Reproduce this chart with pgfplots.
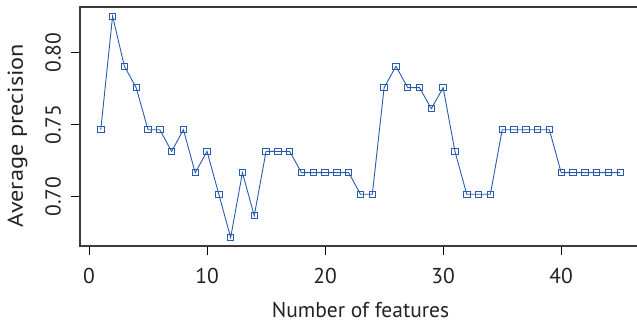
\documentclass[border=0pt]{standalone}
\usepackage{pgfplots}
\pgfplotsset{compat=1.18}
\usepackage{graphicx}
\usepackage{fontspec}
\setmainfont{PT Sans}
\definecolor{lineblue}{RGB}{42,92,172}
\definecolor{boxgray}{RGB}{60,60,60}
\definecolor{txt}{RGB}{35,35,35}
\begin{document}
\begin{tikzpicture}
\begin{axis}[
  at={(0pt,0pt)}, anchor=south west,
  scale only axis, width=561pt, height=239pt,
  xmin=-0.76, xmax=46.76, ymin=0.6658, ymax=0.8317,
  axis line style={boxgray, line width=1.1pt},
  tick align=outside, major tick length=9pt,
  tick style={black, line width=0.9pt},
  xtick={0,10,20,30,40}, xticklabels={0,10,20,30,40},
  ytick={0.70,0.75,0.80}, yticklabels={0.70,0.75,0.80},
  xtick pos=bottom, ytick pos=left,
  font=\fontsize{21.5}{25}\selectfont\color{txt},
  xticklabel style={anchor=north, inner sep=0pt, yshift=-13pt, text=txt, font=\fontsize{21.5}{25}\selectfont},
  yticklabel style={xshift=-10pt, rotate=90, anchor=south, inner sep=0pt, text=txt, font=\fontsize{21.5}{25}\selectfont},
  xlabel={Number of features},
  ylabel={\scalebox{1.13}[1]{Average precision}},
  xlabel style={at={(axis description cs:0.5,0)}, anchor=base, yshift=-71pt, inner sep=0pt, text=txt},
  ylabel style={at={(axis description cs:0,0.5)}, anchor=base, inner sep=0pt, yshift=57pt, xshift=-9pt, text=txt},
  clip=false,
]
\addplot[lineblue, line width=0.9pt, mark=square, mark size=3.2pt, mark options={lineblue, line width=0.9pt, fill=none}] coordinates {
(1,0.7465) (2,0.8253) (3,0.7906) (4,0.7757) (5,0.7465) (6,0.7465) (7,0.7315) (8,0.7465)
(9,0.7167) (10,0.7315) (11,0.7017) (12,0.6717) (13,0.7167) (14,0.6868) (15,0.7315)
(16,0.7315) (17,0.7315) (18,0.7167) (19,0.7167) (20,0.7167) (21,0.7167) (22,0.7167)
(23,0.7017) (24,0.7017) (25,0.7757) (26,0.7906) (27,0.7757) (28,0.7757) (29,0.7611)
(30,0.7757) (31,0.7315) (32,0.7017) (33,0.7017) (34,0.7017) (35,0.7465) (36,0.7465)
(37,0.7465) (38,0.7465) (39,0.7465) (40,0.7167) (41,0.7167) (42,0.7167) (43,0.7167)
(44,0.7167) (45,0.7167)
};
\end{axis}
\pgfresetboundingbox
\useasboundingbox (-80pt,-78pt) rectangle (557pt,246pt);
\end{tikzpicture}
\end{document}
